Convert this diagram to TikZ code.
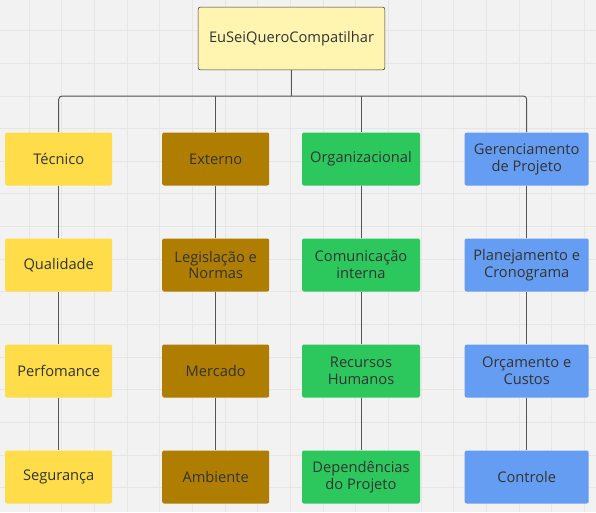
\documentclass[tikz,border=0pt]{standalone}
\usepackage{fontspec}
\setmainfont{Open Sans}
\definecolor{bgc}{HTML}{F2F2F2}
\definecolor{gridc}{HTML}{E6E6E6}
\definecolor{yel}{HTML}{FFDC4A}
\definecolor{brn}{HTML}{AF7D00}
\definecolor{grn}{HTML}{2DC85D}
\definecolor{blu}{HTML}{659DF2}
\definecolor{rootc}{HTML}{FFF5B1}
\definecolor{txt}{HTML}{333333}
\definecolor{linec}{HTML}{555555}
\tikzset{
  box/.style={rectangle, rounded corners=1.5pt, minimum height=39.75pt, text=txt, align=center, font=\fontsize{11}{12.6}\selectfont, inner sep=1pt},
  conn/.style={draw=linec, line width=0.75pt},
}
\begin{document}
\begin{tikzpicture}[x=0.75pt,y=-0.75pt]
\useasboundingbox (0,0) rectangle (596,512);
\begin{scope}
\clip (0,0) rectangle (596,512);
\fill[bgc] (0,0) rectangle (596,512);
\foreach \i in {0,...,17} {
  \draw[gridc, line width=0.75pt] ({29.3+32.65*\i},0) -- ({29.3+32.65*\i},512);
}
\foreach \i in {0,...,14} {
  \draw[gridc, line width=0.75pt] (0,{30.7+32.65*\i}) -- (596,{30.7+32.65*\i});
}
\end{scope}

\node[box, draw=txt, fill=rootc, minimum width=140pt, minimum height=47pt] (root) at (291.5,38.5) {EuSeiQueroCompatilhar};

\node[box, fill=yel, minimum width=80.25pt] (t1) at (58.7,159) {Técnico};
\node[box, fill=yel, minimum width=80.25pt] (t2) at (58.7,265) {Qualidade};
\node[box, fill=yel, minimum width=80.25pt] (t3) at (58.7,371) {Perfomance};
\node[box, fill=yel, minimum width=80.25pt] (t4) at (58.7,477) {Segurança};

\node[box, fill=brn, minimum width=80.25pt] (e1) at (215.7,159) {Externo};
\node[box, fill=brn, minimum width=80.25pt] (e2) at (215.7,265) {Legislação e\\Normas};
\node[box, fill=brn, minimum width=80.25pt] (e3) at (215.7,371) {Mercado};
\node[box, fill=brn, minimum width=80.25pt] (e4) at (215.7,477) {Ambiente};

\node[box, fill=grn, minimum width=88.5pt] (o1) at (361,159) {Organizacional};
\node[box, fill=grn, minimum width=88.5pt] (o2) at (361,265) {Comunicação\\interna};
\node[box, fill=grn, minimum width=88.5pt] (o3) at (361,371) {Recursos\\Humanos};
\node[box, fill=grn, minimum width=88.5pt] (o4) at (361,477) {Dependências\\do Projeto};

\node[box, fill=blu, minimum width=93pt] (g1) at (526.7,159) {Gerenciamento\\de Projeto};
\node[box, fill=blu, minimum width=93pt] (g2) at (526.7,265) {Planejamento e\\Cronograma};
\node[box, fill=blu, minimum width=93pt] (g3) at (526.7,371) {Orçamento e\\Custos};
\node[box, fill=blu, minimum width=93pt] (g4) at (526.7,477) {Controle};

\coordinate (bar) at (291.5,96);
\draw[conn] (root.south) -- (bar);
\draw[conn, rounded corners=2.5pt] (t1.north) |- (bar) -| (g1.north);
\draw[conn] (e1.north) -- (e1.north |- bar);
\draw[conn] (o1.north) -- (o1.north |- bar);

\foreach \c in {t,e,o,g} {
  \draw[conn] (\c1.south) -- (\c2.north);
  \draw[conn] (\c2.south) -- (\c3.north);
  \draw[conn] (\c3.south) -- (\c4.north);
}
\end{tikzpicture}
\end{document}
